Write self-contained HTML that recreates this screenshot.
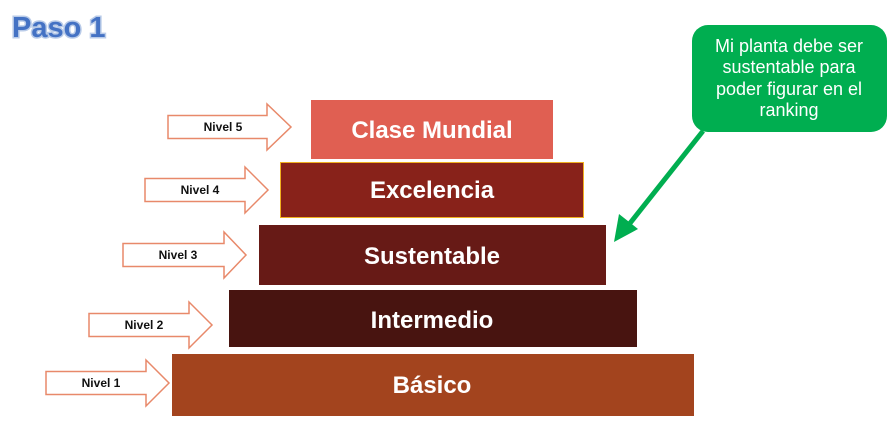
<!DOCTYPE html>
<html><head><meta charset="utf-8"><style>
html,body{margin:0;padding:0;background:#fff;}
svg{display:block;}
</style></head><body>
<svg width="896" height="426" viewBox="0 0 896 426" xmlns="http://www.w3.org/2000/svg" font-family="Liberation Sans, sans-serif">
<text x="12" y="37" font-size="29" font-weight="bold" fill="#b9cbe8" stroke="#b9cbe8" stroke-width="3">Paso 1</text>
<text x="12" y="37" font-size="29" font-weight="bold" fill="#4472c4">Paso 1</text>

<g fill="#fff" stroke="#e8896a" stroke-width="1.5">
<path d="M168 115.5H267V104L291 127L267 150V138.5H168Z"/>
<path d="M145 178.5H245V167L268 190L245 213V201.5H145Z"/>
<path d="M123 243.5H224V232L246 255L224 278V266.5H123Z"/>
<path d="M89 313.5H189V302L212 325L189 348V336.5H89Z"/>
<path d="M46 371.5H146V360L169 383L146 406V394.5H46Z"/>
</g>
<g font-size="12" font-weight="bold" fill="#111" text-anchor="middle">
<text x="223" y="131">Nivel 5</text>
<text x="200" y="194">Nivel 4</text>
<text x="178" y="259">Nivel 3</text>
<text x="144" y="329">Nivel 2</text>
<text x="101" y="387">Nivel 1</text>
</g>

<rect x="311" y="100" width="242" height="59" fill="#e05f52"/>
<rect x="280.5" y="162.5" width="303" height="55" fill="#88221a" stroke="#f0b020" stroke-width="1"/>
<rect x="259" y="225" width="347" height="60" fill="#671a16"/>
<rect x="229" y="290" width="408" height="57" fill="#481410"/>
<rect x="172" y="354" width="522" height="62" fill="#a3441e"/>
<g font-size="24" font-weight="bold" fill="#fff" text-anchor="middle">
<text x="432" y="138">Clase Mundial</text>
<text x="432" y="198">Excelencia</text>
<text x="432" y="264">Sustentable</text>
<text x="432" y="328">Intermedio</text>
<text x="432" y="393">Básico</text>
</g>

<rect x="692" y="25" width="195" height="107" rx="16" fill="#00ae50"/>
<g font-size="18" fill="#fff" text-anchor="middle">
<text x="789" y="52">Mi planta debe ser</text>
<text x="789" y="73">sustentable para</text>
<text x="789" y="95">poder figurar en el</text>
<text x="789" y="116">ranking</text>
</g>
<line x1="703" y1="131" x2="627" y2="227" stroke="#00ae50" stroke-width="5"/>
<polygon points="614,242 619,214 638,229" fill="#00ae50"/>
</svg>
</body></html>
